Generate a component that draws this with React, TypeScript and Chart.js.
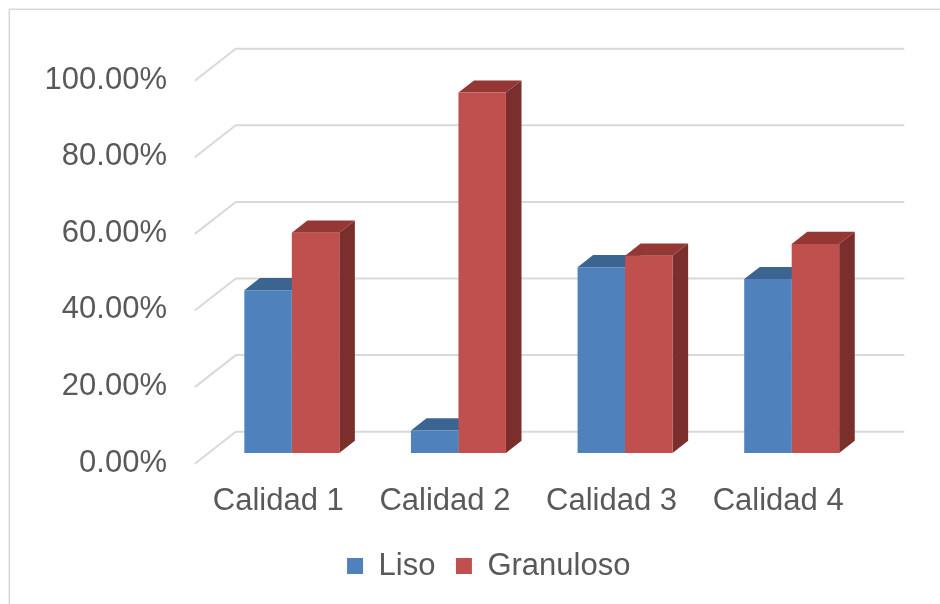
import React, { useEffect, useRef } from "react";
import { Chart, registerables } from "chart.js";

Chart.register(...registerables);

const categories = ["Calidad 1", "Calidad 2", "Calidad 3", "Calidad 4"];
const seriesNames = ["Liso", "Granuloso"];
const lisoValues = [42.5, 5.9, 48.5, 45.4];
const granulosoValues = [57.5, 94.1, 51.5, 54.6];
const yTicks = [0, 20, 40, 60, 80, 100];

const FONT = "'Liberation Sans', Arial, sans-serif";
const TEXT = "#595959";
const GRID = "#d9d9d9";
const DEPTH = { x: 41, y: -32 };
const F_FRONT = 0.334;
const F_BACK = 0.666;
const BAR_DEPTH = 0.38;

const faceColors = [
  { top: "#3c6491", side: "#34567e" },
  { top: "#943735", side: "#7b2f2d" },
];

const threeD = {
  id: "threeD",
  beforeDraw(chart: any) {
    const ctx = chart.ctx;
    ctx.save();
    ctx.strokeStyle = GRID;
    ctx.lineWidth = 1.5;
    ctx.strokeRect(9.25, 9.25, 1000, 1000);
    ctx.restore();
  },
  beforeDatasetsDraw(chart: any) {
    const ctx = chart.ctx;
    const { left, right } = chart.chartArea;
    const y = chart.scales.y;
    ctx.save();
    ctx.strokeStyle = GRID;
    ctx.lineWidth = 2;
    ctx.lineCap = "butt";
    for (const v of yTicks) {
      const ys = y.getPixelForValue(v);
      const fx = left - F_FRONT * DEPTH.x;
      const fy = ys - F_FRONT * DEPTH.y;
      const bx = left + F_BACK * DEPTH.x;
      const by = ys + F_BACK * DEPTH.y;
      ctx.beginPath();
      ctx.moveTo(fx, fy);
      ctx.lineTo(bx, by);
      ctx.lineTo(right + F_BACK * DEPTH.x + 2, by);
      ctx.stroke();
    }
    const dx = BAR_DEPTH * DEPTH.x;
    const dy = BAR_DEPTH * DEPTH.y;
    chart.data.datasets.forEach((ds: any, di: number) => {
      const meta = chart.getDatasetMeta(di);
      meta.data.forEach((el: any) => {
        const p = el.getProps(["x", "y", "base", "width"], true);
        const l = p.x - p.width / 2;
        const r = p.x + p.width / 2;
        const t = p.y;
        const b = p.base;
        ctx.fillStyle = faceColors[di].top;
        ctx.beginPath();
        ctx.moveTo(l, t);
        ctx.lineTo(l + dx, t + dy);
        ctx.lineTo(r + dx, t + dy);
        ctx.lineTo(r, t);
        ctx.closePath();
        ctx.fill();
        ctx.fillStyle = faceColors[di].side;
        ctx.beginPath();
        ctx.moveTo(r, t);
        ctx.lineTo(r + dx, t + dy);
        ctx.lineTo(r + dx, b + dy);
        ctx.lineTo(r, b);
        ctx.closePath();
        ctx.fill();
      });
    });
    ctx.restore();
  },
};

export default function App() {
  const ref = useRef<HTMLCanvasElement | null>(null);
  useEffect(() => {
    document.body.style.margin = "0";
    const chart = new Chart(ref.current as HTMLCanvasElement, {
      type: "bar",
      data: {
        labels: categories,
        datasets: [
          {
            label: seriesNames[0],
            data: lisoValues,
            backgroundColor: "#4f81bd",
            borderWidth: 0,
            categoryPercentage: 0.57,
            barPercentage: 1,
          },
          {
            label: seriesNames[1],
            data: granulosoValues,
            backgroundColor: "#c0504d",
            borderWidth: 0,
            categoryPercentage: 0.57,
            barPercentage: 1,
          },
        ],
      },
      options: {
        responsive: false,
        animation: false,
        layout: { padding: { top: 70, left: 40, right: 2.5, bottom: 12.5 } },
        scales: {
          x: {
            grid: { display: false, drawTicks: false },
            border: { display: false },
            ticks: {
              color: TEXT,
              font: { family: FONT, size: 31 },
              padding: 30,
              labelOffset: -13.5,
              maxRotation: 0,
              autoSkip: false,
            },
            afterFit: (s: any) => {
              s.height = 77;
            },
          },
          y: {
            min: 0,
            max: 100,
            grid: { display: false, drawTicks: false },
            border: { display: false },
            ticks: {
              stepSize: 20,
              color: TEXT,
              font: { family: FONT, size: 31 },
              padding: 41.5,
              labelOffset: 10,
              callback: (v: any) => Number(v).toFixed(2) + "%",
            },
            afterFit: (s: any) => {
              s.width = 168.5;
            },
          },
          yRight: {
            type: "linear",
            position: "right",
            min: 0,
            max: 100,
            grid: { display: false, drawTicks: false },
            border: { display: false },
            ticks: { display: false },
            afterFit: (s: any) => {
              s.width = 62.5;
            },
          },
        },
        plugins: {
          legend: {
            position: "bottom",
            labels: {
              boxWidth: 16,
              boxHeight: 16,
              padding: 20.5,
              color: TEXT,
              font: { family: FONT, size: 31 },
            },
          },
          tooltip: { enabled: false },
        },
      },
      plugins: [threeD],
    });
    return () => chart.destroy();
  }, []);
  return (
    <div style={{ width: 940, height: 604, background: "#fff" }}>
      <canvas ref={ref} width={940} height={604} style={{ display: "block" }} />
    </div>
  );
}
